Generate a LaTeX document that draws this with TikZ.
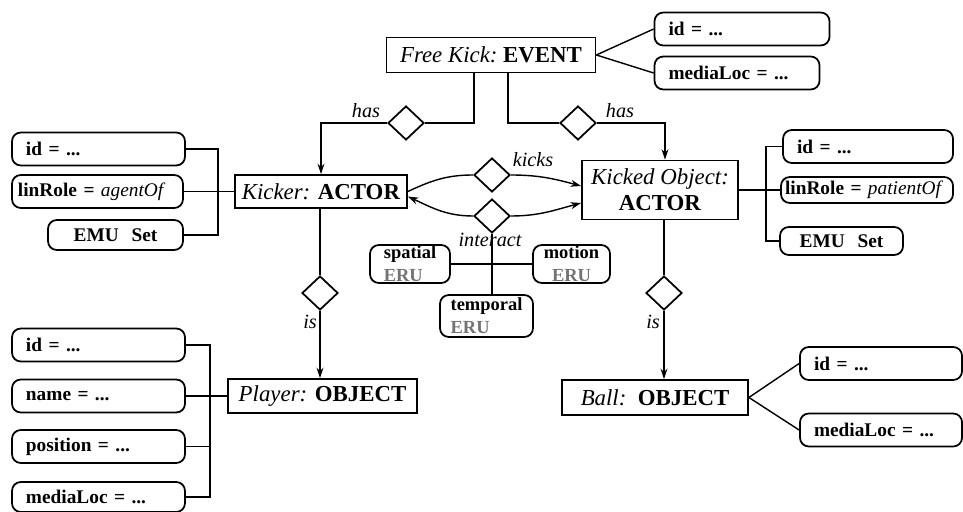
\documentclass[tikz,border=0pt]{standalone}
\usepackage{fontspec}
\setmainfont{Liberation Serif}
\usetikzlibrary{shapes.geometric,arrows.meta,positioning,calc}

\begin{document}
\begin{tikzpicture}[x=0.2mm, y=-0.2mm, line width=0.8pt,
    cls/.style={draw, line width=1pt, inner sep=0pt, font=\fontsize{13}{15}\selectfont},
    attr/.style={draw, line width=1pt, rounded corners=5pt, inner xsep=2.8mm, inner ysep=0pt,
                 minimum height=6.6mm, align=left, font=\bfseries\fontsize{11}{13}\selectfont},
    eru/.style={draw, line width=1pt, rounded corners=5pt, inner sep=0pt, align=left,
                font=\bfseries\fontsize{10.5}{13}\selectfont},
    rel/.style={draw, diamond, line width=1pt, inner sep=0pt, minimum width=7.2mm, minimum height=6.8mm},
    lbl/.style={font=\itshape\fontsize{11.5}{13}\selectfont},
    arr/.style={-{Stealth[length=6pt,width=4pt]}}]
    \useasboundingbox (0,0) rectangle (963,512);

    % classes
    \node [cls, minimum width=41.8mm, minimum height=7mm] (ev) at (491,55) {\textit{Free Kick:}\ \textbf{EVENT}};
    \node [cls, minimum width=34.4mm, minimum height=6.6mm] (kicker) at (321,191.5) {\textit{Kicker:} \textbf{ACTOR}};
    \node [cls, minimum width=31.2mm, minimum height=11.8mm, align=center] (kicked) at (660,190) {\textit{Kicked Object:}\\\textbf{ACTOR}};
    \node [cls, minimum width=37.8mm, minimum height=6.8mm] (player) at (322.5,396) {\textit{Player:} \textbf{OBJECT}};
    \node [cls, minimum width=37.2mm, minimum height=7mm] (ball) at (655,397.5) {\textit{Ball:}\ \ \textbf{OBJECT}};

    % relations
    \node [rel] (hasL) at (406,123) {};
    \node [rel] (hasR) at (578,123) {};
    \node [rel] (kicks) at (492,175) {};
    \node [rel] (inter) at (492,216) {};
    \node [rel] (isL) at (320,293) {};
    \node [rel] (isR) at (664,293) {};
    \node [lbl] (hasLt) at (366,111) {has};
    \node [lbl] (hasRt) at (620,111) {has};
    \node [lbl] (kickst) at (533,160) {kicks};
    \node [lbl] (intert) at (490,240) {interact};
    \node [lbl] (isLt) at (310,322) {is};
    \node [lbl] (isRt) at (653,322) {is};

    % event attributes
    \node [attr, text width=29.4mm] (evid) at (742,29) {id = ...};
    \node [attr, text width=27.4mm] (evloc) at (737,73) {mediaLoc = ...};

    % kicker attributes
    \node [attr, text width=29mm] (kid) at (98.5,149) {id = ...};
    \node [attr, text width=31.8mm, inner xsep=1.2mm] (krole) at (97.5,191.5) {linRole = \textit{\mdseries agentOf}};
    \node [attr, text width=21.4mm, align=center, minimum height=6mm] (kemu) at (115.5,235) {EMU\ \ Set};

    % kicked object attributes
    \node [attr, text width=28.4mm] (oid) at (868,146.5) {id = ...};
    \node [attr, text width=32.8mm, inner xsep=0.8mm, minimum height=5.2mm] (orole) at (867,190) {linRole = \textit{\mdseries patientOf}};
    \node [attr, text width=19mm, align=center, minimum height=5.6mm] (oemu) at (841.5,241) {EMU\ \ Set};

    % player attributes
    \node [attr, text width=29mm] (pid) at (98.5,345) {id = ...};
    \node [attr, text width=29mm] (pname) at (98.5,396) {name = ...};
    \node [attr, text width=29mm] (ppos) at (98.5,446.5) {position = ...};
    \node [attr, text width=29mm, minimum height=6mm] (ploc) at (98.5,497) {mediaLoc = ...};

    % ball attributes
    \node [attr, text width=26.8mm] (bid) at (881,363.5) {id = ...};
    \node [attr, text width=26.8mm] (bloc) at (881,430) {mediaLoc = ...};

    % ERU boxes
    \node [eru, minimum width=16mm, minimum height=7.6mm] (spat) at (410,264) {spatial\\\textcolor{black!55}{ERU}};
    \node [eru, minimum width=15.4mm, minimum height=7.6mm, align=center] (mot) at (571.5,264) {motion\\\textcolor{black!55}{ERU}};
    \node [eru, minimum width=18.6mm, minimum height=8.4mm] (temp) at (486.5,316) {temporal\\\textcolor{black!55}{ERU}};

    % attribute links
    \draw (ev.east) -- (evid.west);
    \draw (ev.east) -- (evloc.west);
    \coordinate (kbar) at (218,191.5);
    \draw (kid.east) -| (kbar) |- (kemu.east);
    \draw (krole.east) -- (kicker.west);
    \coordinate (obar) at (766,190);
    \draw (oid.west) -| (obar) |- (oemu.west);
    \draw (kicked.east) -- (orole.west);
    \coordinate (pbar) at (210,396);
    \draw (pid.east) -| (pbar) |- (ploc.east);
    \draw (ppos.east) -- (ppos.east -| pbar);
    \draw (pname.east) -- (player.west);
    \draw (ball.east) -- (bid.west);
    \draw (ball.east) -- (bloc.west);

    % has / is
    \draw ([xshift=-3.4mm]ev.south) |- (hasL.east);
    \draw [arr] (hasL.west) -| (kicker.north);
    \draw ([xshift=3.4mm]ev.south) |- (hasR.west);
    \draw [arr] (hasR.east) -| ([xshift=1mm]kicked.north);
    \draw (isL.north |- kicker.south) -- (isL.north);
    \draw [arr] (isL.south) -- (isL.south |- player.north);
    \draw (isR.north |- kicked.south) -- (isR.north);
    \draw [arr] (isR.south) -- (isR.south |- ball.north);

    % kicks / interact
    \draw (kicker.east) to[out=25, in=180] (kicks.west);
    \draw [arr] (kicks.east) to[out=0, in=165] ([yshift=0.8mm]kicked.west);
    \draw [arr] (inter.west) to[out=180, in=-25] ([yshift=-1mm]kicker.east);
    \draw [arr] (inter.east) to[out=0, in=195] ([yshift=-2.6mm]kicked.west);
    \draw (spat.east) -- (mot.west);
    \draw (inter.south) -- (inter.south |- temp.north);
\end{tikzpicture}
\end{document}
